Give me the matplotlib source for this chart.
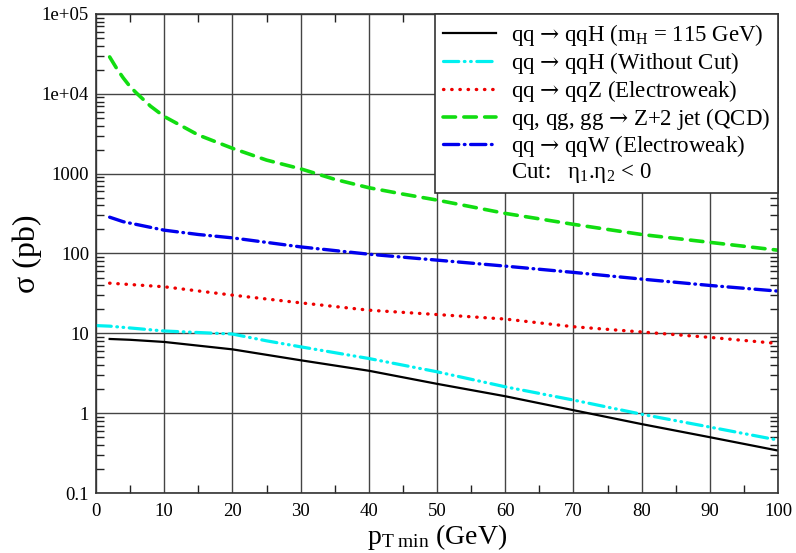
import numpy as np
import matplotlib
matplotlib.use("Agg")
import matplotlib.pyplot as plt
from matplotlib.lines import Line2D
from matplotlib.ticker import FixedLocator, FixedFormatter, LogLocator, MultipleLocator, NullFormatter

plt.rcParams['font.family'] = ['Liberation Serif', 'DejaVu Serif']
plt.rcParams['mathtext.fontset'] = 'custom'
plt.rcParams['mathtext.rm'] = 'Liberation Serif'
plt.rcParams['mathtext.it'] = 'Liberation Serif:italic'
plt.rcParams['mathtext.sf'] = 'DejaVu Serif'
plt.rcParams['lines.scale_dashes'] = False

# data
x_qcd = [2, 3, 4, 5, 6, 8, 10, 15, 20, 25, 30, 35, 40, 45, 50, 60, 70, 80, 90, 100]
y_qcd = [29000, 21000, 15800, 12300, 10100, 7000, 5200, 3050, 2080, 1480, 1150, 850, 667, 555, 467, 318, 232, 173, 138, 110]

x_w = [2, 4, 10, 15, 20, 30, 40, 50, 60, 70, 80, 90, 100]
y_w = [285, 250, 196, 173, 157, 121, 98, 82.6, 69.5, 58, 47.8, 39.8, 33.8]

x_z = [2, 10, 20, 30, 40, 50, 60, 70, 80, 90, 100]
y_z = [42.5, 38.3, 30.1, 24.1, 19.5, 17.2, 15.1, 12.1, 10.4, 8.9, 7.46]

x_nocut = [0, 2, 10, 20, 25, 30, 40, 50, 60, 70, 80, 90, 100]
y_nocut = [12.5, 12.3, 10.7, 9.8, 8.06, 6.78, 4.84, 3.3, 2.14, 1.46, 0.97, 0.67, 0.46]

x_h = [2, 5, 10, 20, 30, 40, 50, 60, 70, 80, 90, 100]
y_h = [8.5, 8.3, 7.8, 6.3, 4.6, 3.4, 2.33, 1.63, 1.09, 0.73, 0.50, 0.34]

ytick_vals = [0.1, 1, 10, 100, 1000, 1e4, 1e5]
ytick_labels = ['0.1', '1', '10', '100', '1000', '1e+04', '1e+05']

arrow = r'$\mathsf{→}$'

fig = plt.figure(figsize=(7.96, 5.53), dpi=100)
ax = fig.add_axes([96/796, 1-493/553, (778-96)/796, (493-14)/553])

ax.plot(x_h, y_h, color='black', lw=1.6, label=r'qq ' + arrow + r' qqH (m$_\mathrm{H}$ = 115 GeV)')
ax.plot(x_nocut, y_nocut, color='#00f0f0', lw=2.3, dashes=(11, 4, 0.5, 4, 0.5, 4),
        dash_capstyle='round', label='qq ' + arrow + ' qqH (Without Cut)')
ax.plot(x_z, y_z, color='#ee0000', lw=2.4, dashes=(0.3, 5.6),
        dash_capstyle='round', label='qq ' + arrow + ' qqZ (Electroweak)')
ax.plot(x_qcd, y_qcd, color='#11dd11', lw=2.6, dashes=(9, 6),
        dash_capstyle='round', label='qq, qg, gg ' + arrow + ' Z+2 jet (QCD)')
ax.plot(x_w, y_w, color='#0000ee', lw=2.4, dashes=(11, 4, 0.5, 4),
        dash_capstyle='round', label='qq ' + arrow + ' qqW (Electroweak)')

ax.set_yscale('log')
ax.set_xlim(0, 100)
ax.set_ylim(0.1, 1e5)

ax.xaxis.set_major_locator(MultipleLocator(10))
ax.xaxis.set_minor_locator(MultipleLocator(5))
ax.yaxis.set_major_locator(FixedLocator(ytick_vals))
ax.yaxis.set_major_formatter(FixedFormatter(ytick_labels))
ax.yaxis.set_minor_locator(LogLocator(base=10, subs=np.arange(2, 10)))
ax.yaxis.set_minor_formatter(NullFormatter())

ax.tick_params(which='both', direction='in', top=True, right=True, colors='#222222')
ax.tick_params(which='major', length=0, labelsize=13.5, labelcolor='black')
ax.tick_params(axis='x', which='major', pad=7)
ax.tick_params(axis='y', which='major', pad=5)
ax.tick_params(which='minor', length=6, width=1)

ax.grid(True, which='major', color='#444444', lw=1)
for s in ax.spines.values():
    s.set_color('#333333')
    s.set_linewidth(1.2)

ax.set_xlabel(r'p$_\mathrm{T\ min}$ (GeV)', fontsize=20, labelpad=2)
ax.set_ylabel('σ (pb)', fontsize=23, labelpad=0)

handles, labels = ax.get_legend_handles_labels()
handles.append(Line2D([], [], color='none'))
labels.append('Cut:   η$_1$.η$_2$ < 0')
leg = ax.legend(handles, labels, loc='upper right', bbox_to_anchor=(1, 1), borderaxespad=0,
                fontsize=16.5, frameon=True, fancybox=False, framealpha=1, edgecolor='#333333',
                handlelength=2.3, handletextpad=0.65, labelspacing=0.08, borderpad=0.35)
leg.get_frame().set_linewidth(1.2)

fig.savefig('out.png', dpi=100)
